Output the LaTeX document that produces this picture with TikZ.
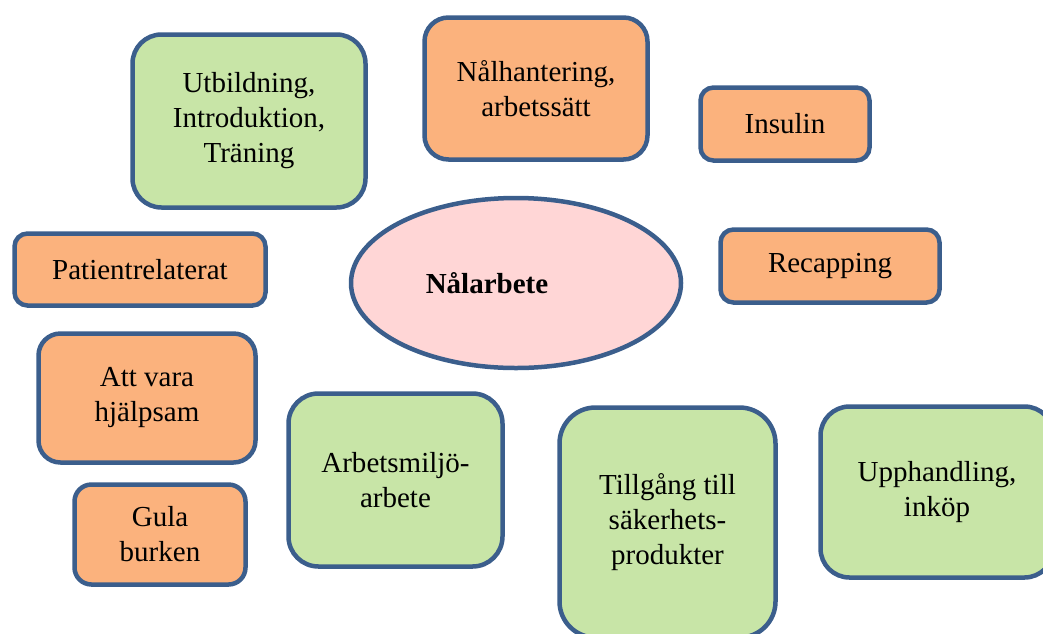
\documentclass[tikz,border=0pt]{standalone}
\usepackage{fontspec}
\setmainfont{Liberation Serif}
\usetikzlibrary{shapes.geometric}
\definecolor{frame}{HTML}{3B5E8C}
\definecolor{leaf}{HTML}{C8E5A7}
\definecolor{peach}{HTML}{FBB27D}
\definecolor{blush}{HTML}{FFD6D6}
\begin{document}
\begin{tikzpicture}[x=1pt, y=-1pt, line width=4.5pt,
  box/.style={rectangle,draw=frame,align=center,inner sep=0pt,font=\fontsize{29}{35}\selectfont},
  green node/.style={box,fill=leaf},
  orange node/.style={box,fill=peach}]%
\useasboundingbox (0,0) rectangle (1043,633);
\clip (0,0) rectangle (1043,633);
\node[ellipse,draw=frame,fill=blush,minimum width=330pt,minimum height=170pt] (core) at (516,283) {};
\node[font=\fontsize{29}{35}\selectfont\bfseries] (corelabel) at (487,283) {Nålarbete};
\begin{scope}[every node/.style={green node}]
\node[minimum width=233pt,minimum height=173pt,rounded corners=29pt] (utb) at (249,121) {Utbildning,\\Introduktion,\\Träning};
\node[minimum width=214pt,minimum height=173pt,rounded corners=30pt] (arb) at (395.5,480) {Arbetsmiljö-\\arbete};
\node[minimum width=216pt,minimum height=230pt,rounded corners=36pt] (till) at (667.5,522.5) {Tillgång till\\säkerhets-\\produkter};
\node[minimum width=233pt,minimum height=171pt,rounded corners=29pt] (upp) at (937,492) {Upphandling,\\inköp};
\end{scope}
\begin{scope}[every node/.style={orange node}]
\node[minimum width=223pt,minimum height=142pt,rounded corners=24pt] (nal) at (536,88.5) {Nålhantering,\\arbetssätt};
\node[minimum width=169pt,minimum height=73pt,rounded corners=13pt] (ins) at (785,124) {Insulin};
\node[minimum width=251pt,minimum height=72pt,rounded corners=13pt] (pat) at (140,269.5) {Patientrelaterat};
\node[minimum width=219pt,minimum height=73pt,rounded corners=13pt] (rec) at (830,266) {Recapping};
\node[minimum width=217pt,minimum height=129pt,rounded corners=22pt] (att) at (147,398) {Att vara\\hjälpsam};
\node[minimum width=171pt,minimum height=100pt,rounded corners=17pt] (gula) at (160,534.5) {Gula\\burken};
\end{scope}
\end{tikzpicture}
\end{document}
